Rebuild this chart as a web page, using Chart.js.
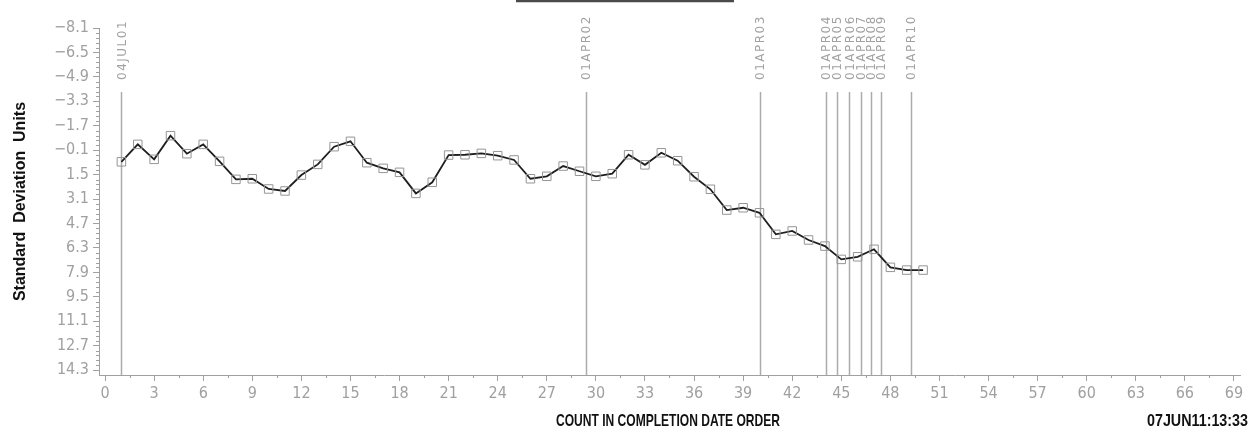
<!DOCTYPE html>
<html>
<head>
<meta charset="utf-8">
<script src="https://cdn.jsdelivr.net/npm/chart.js@4.4.1/dist/chart.umd.min.js"></script>
<style>
  html, body { margin: 0; padding: 0; background: #fff; }
  #wrap { width: 1250px; height: 445px; }
</style>
</head>
<body>
<div id="wrap"><canvas id="chart" width="1250" height="445"></canvas></div>
<script>
// ── Deviation run chart ──
// Standardised deviation per completed item, with dated event markers.

const counts = [
  1, 2, 3, 4, 5, 6, 7, 8, 9, 10, 11, 12, 13, 14, 15, 16, 17, 18, 19, 20, 21, 22, 23, 24, 25,
  26, 27, 28, 29, 30, 31, 32, 33, 34, 35, 36, 37, 38, 39, 40, 41, 42, 43, 44, 45, 46, 47, 48, 49, 50
];
const deviation = [
  0.66, -0.48, 0.50, -1.05, 0.13, -0.48, 0.63, 1.81, 1.77, 2.44,
  2.57, 1.53, 0.83, -0.33, -0.68, 0.72, 1.09, 1.35, 2.73, 2.00,
  0.22, 0.20, 0.11, 0.26, 0.54, 1.77, 1.61, 0.94, 1.28, 1.61,
  1.44, 0.20, 0.86, 0.07, 0.59, 1.64, 2.46, 3.82, 3.67, 4.00,
  5.41, 5.19, 5.78, 6.18, 7.05, 6.88, 6.39, 7.57, 7.75, 7.75
];

const yTicks = [-8.1, -6.5, -4.9, -3.3, -1.7, -0.1, 1.5, 3.1, 4.7, 6.3, 7.9, 9.5, 11.1, 12.7, 14.3];
const xTicks = [0, 3, 6, 9, 12, 15, 18, 21, 24, 27, 30, 33, 36, 39, 42, 45, 48, 51, 54, 57, 60, 63, 66, 69];

const eventLabels = ['04JUL01', '01APR02', '01APR03', '01APR04', '01APR05', '01APR06', '01APR07', '01APR08', '01APR09', '01APR10'];
const eventCounts = [1, 29.4, 40.05, 44.05, 44.75, 45.5, 46.2, 46.8, 47.4, 49.25];

const yTitle = 'Standard  Deviation  Units';
const xTitle = 'COUNT IN COMPLETION DATE ORDER';
const stamp = '07JUN11:13:33';

const AXIS_GREY = '#a0a0a0';
const TICK_FONT = "'Liberation Sans Narrow', 'DejaVu Sans Condensed', sans-serif";

// minor ticks, event markers and the free-standing captions
const decor = {
  id: 'decor',
  beforeDatasetsDraw(chart) {
    const { ctx, chartArea, scales: { x } } = chart;
    ctx.save();
    ctx.strokeStyle = '#ababab';
    ctx.lineWidth = 1.5;
    eventCounts.forEach(c => {
      const px = Math.round(x.getPixelForValue(c)) + 0.5;
      ctx.beginPath();
      ctx.moveTo(px, 92);
      ctx.lineTo(px, chartArea.bottom);
      ctx.stroke();
    });

    ctx.fillStyle = '#a2a2a2';
    ctx.font = "12px 'DejaVu Sans', sans-serif";
    ctx.letterSpacing = '1.5px';
    ctx.textAlign = 'left';
    ctx.textBaseline = 'middle';
    eventCounts.forEach((c, i) => {
      const px = x.getPixelForValue(c) + 1;
      ctx.save();
      ctx.translate(px, 80);
      ctx.rotate(-Math.PI / 2);
      ctx.fillText(eventLabels[i], 0, 0);
      ctx.restore();
    });
    ctx.restore();
  },
  afterDraw(chart) {
    const { ctx, chartArea, scales: { x, y } } = chart;
    ctx.save();

    // minor ticks
    ctx.strokeStyle = AXIS_GREY;
    ctx.lineWidth = 1;
    for (let i = 0; i < yTicks.length - 1; i++) {
      for (let k = 1; k < 5; k++) {
        const py = Math.round(y.getPixelForValue(yTicks[i] + (yTicks[i + 1] - yTicks[i]) * k / 5)) + 0.5;
        ctx.beginPath();
        ctx.moveTo(chartArea.left - 3, py);
        ctx.lineTo(chartArea.left, py);
        ctx.stroke();
      }
    }
    for (let i = 0; i < xTicks.length - 1; i++) {
      const px = Math.round(x.getPixelForValue((xTicks[i] + xTicks[i + 1]) / 2)) + 0.5;
      ctx.beginPath();
      ctx.moveTo(px, chartArea.bottom);
      ctx.lineTo(px, chartArea.bottom + 3);
      ctx.stroke();
    }

    // top frame edge
    ctx.strokeStyle = '#4a4a4a';
    ctx.lineWidth = 2.5;
    ctx.beginPath();
    ctx.moveTo(516, 1);
    ctx.lineTo(734, 1);
    ctx.stroke();

    // y title
    ctx.fillStyle = '#111';
    ctx.font = "bold 16px 'Liberation Sans', Arial, sans-serif";
    ctx.textAlign = 'center';
    ctx.textBaseline = 'middle';
    ctx.save();
    ctx.translate(21, (chartArea.top + chartArea.bottom) / 2);
    ctx.rotate(-Math.PI / 2);
    ctx.fillText(yTitle, 0, 0);
    ctx.restore();

    // x title and timestamp, condensed
    ctx.textBaseline = 'alphabetic';
    ctx.font = "bold 17px 'Liberation Sans', Arial, sans-serif";
    ctx.textAlign = 'center';
    ctx.fillText(xTitle, 668, 426, 224);
    ctx.textAlign = 'right';
    ctx.fillText(stamp, 1248, 426, 101);

    ctx.restore();
  }
};

new Chart(document.getElementById('chart'), {
  type: 'line',
  data: {
    datasets: [{
      data: counts.map((c, i) => ({ x: c, y: deviation[i] })),
      borderColor: '#1e1e1e',
      borderWidth: 1.8,
      tension: 0,
      fill: false,
      pointStyle: 'rect',
      pointRadius: 6,
      pointBorderWidth: 1,
      pointBorderColor: '#959595',
      pointBackgroundColor: 'rgba(255,255,255,0)'
    }]
  },
  options: {
    responsive: false,
    animation: false,
    layout: { padding: { top: 28, right: 10, left: 0, bottom: 0 } },
    plugins: {
      legend: { display: false },
      tooltip: { enabled: false }
    },
    scales: {
      x: {
        type: 'linear',
        min: -0.37,
        max: 69.37,
        afterBuildTicks: s => { s.ticks = xTicks.map(v => ({ value: v })); },
        afterFit: s => { s.height = 70; },
        ticks: {
          color: AXIS_GREY,
          font: { family: TICK_FONT, size: 16 },
          padding: 3,
          maxRotation: 0,
          autoSkip: false
        },
        grid: { drawOnChartArea: false, drawTicks: true, tickLength: 6, color: AXIS_GREY },
        border: { display: true, color: AXIS_GREY, width: 1 }
      },
      y: {
        type: 'linear',
        reverse: true,
        min: -8.1,
        max: 14.62,
        afterBuildTicks: s => { s.ticks = yTicks.map(v => ({ value: v })); },
        afterFit: s => { s.width = 99; },
        ticks: {
          color: AXIS_GREY,
          font: { family: TICK_FONT, size: 16 },
          padding: 4,
          autoSkip: false,
          callback: v => v.toFixed(1).replace('-', '\u2212')
        },
        grid: { drawOnChartArea: false, drawTicks: true, tickLength: 6, color: AXIS_GREY },
        border: { display: true, color: AXIS_GREY, width: 1 }
      }
    }
  },
  plugins: [decor]
});
</script>
</body>
</html>
